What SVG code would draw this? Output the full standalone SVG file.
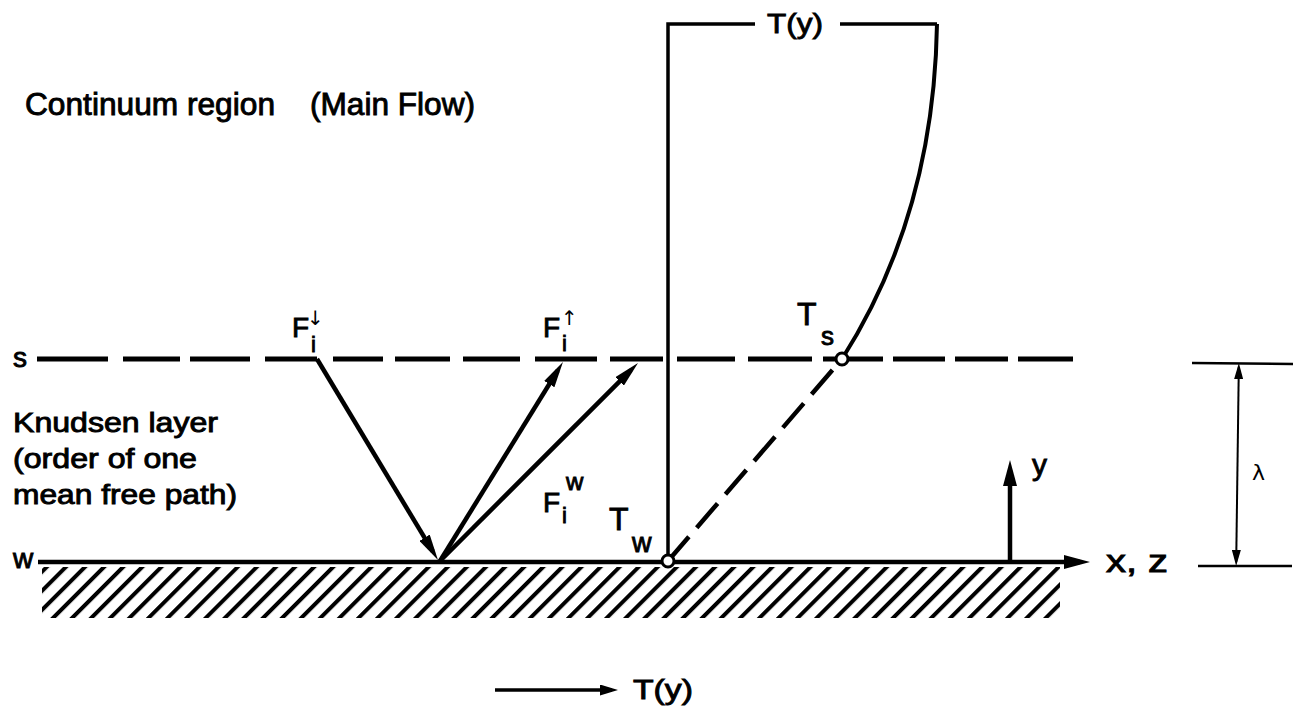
<svg xmlns="http://www.w3.org/2000/svg" width="1301" height="710" viewBox="0 0 1301 710">
<style>
.t{font-family:"Liberation Sans",Arial,sans-serif;fill:#000;stroke:#000;stroke-width:0.9}
.ln{stroke:#000;fill:none;stroke-linecap:butt}
.sym{font-family:"DejaVu Sans",sans-serif;fill:#000}
</style>
<defs>
<marker id="mBig" markerUnits="userSpaceOnUse" viewBox="0 0 26 12" markerWidth="26" markerHeight="12" refX="16" refY="6" orient="auto"><path d="M0,0 L26,6 L0,12 z" fill="#000"/></marker>
<marker id="mAx" markerUnits="userSpaceOnUse" viewBox="0 0 26 14" markerWidth="26" markerHeight="14" refX="16" refY="7" orient="auto"><path d="M0,0 L26,7 L0,14 z" fill="#000"/></marker>
<marker id="mMed" markerUnits="userSpaceOnUse" viewBox="0 0 18 11" markerWidth="18" markerHeight="11" refX="12" refY="5.5" orient="auto"><path d="M0,0 L18,5.5 L0,11 z" fill="#000"/></marker>
<marker id="mSm" markerUnits="userSpaceOnUse" viewBox="0 0 16 9" markerWidth="16" markerHeight="9" refX="12" refY="4.5" orient="auto-start-reverse"><path d="M0,0 L16,4.5 L0,9 z" fill="#000"/></marker>
<pattern id="hatch" patternUnits="userSpaceOnUse" width="13.5" height="20" patternTransform="rotate(45)"><line x1="2" y1="0" x2="2" y2="20" stroke="#000" stroke-width="4"/></pattern>
<clipPath id="hclip"><rect x="42" y="567" width="1018" height="51"/></clipPath>
</defs>
<rect width="1301" height="710" fill="#fff"/>

<g id="wall">
<rect x="42" y="567" width="1018" height="51" fill="url(#hatch)"/>
<text class="t" x="13" y="568" font-size="28">w</text>
</g>

<g id="s-plane">
<path class="ln" stroke-width="5" d="M37,359H108M123,359H180M190,359H250M265,359H317M333,359H383M395,359H450M463,359H520M535,359H597M610,359H663M677,359H735M748,359H812M823,359H883M893,359H945M955,359H1008M1018,359H1073"/>
<text class="t" x="13" y="367" font-size="28">s</text>
</g>

<g id="profile">
<path class="ln" stroke-width="3.5" d="M668,561V24H755M840,24H937"/>
<path class="ln" stroke-width="4" d="M937,24 C935,150 905,260 842,359"/>
<path class="ln" stroke-width="4.5" stroke-dasharray="32 12" d="M668,561 L842,359"/>
<text class="t" x="767" y="33" font-size="28" textLength="56" lengthAdjust="spacingAndGlyphs">T(y)</text>
</g>

<g id="connectors">
<line class="ln" stroke-width="4.5" x1="38" y1="562" x2="1080" y2="562" marker-end="url(#mAx)"/>
<line class="ln" stroke-width="4.5" x1="317" y1="359" x2="432.8" y2="551.4" marker-end="url(#mBig)"/>
<line class="ln" stroke-width="4.5" x1="440" y1="561" x2="557.7" y2="370.5" marker-end="url(#mBig)"/>
<line class="ln" stroke-width="4.5" x1="440" y1="561" x2="630.9" y2="370.1" marker-end="url(#mBig)"/>
<line class="ln" stroke-width="4.5" x1="1010" y1="562" x2="1010" y2="470" marker-end="url(#mAx)"/>
<line class="ln" stroke-width="3.5" x1="495" y1="690" x2="612" y2="690" marker-end="url(#mMed)"/>
<line class="ln" stroke-width="2" x1="1238.8" y1="367" x2="1236.2" y2="562" marker-start="url(#mSm)" marker-end="url(#mSm)"/>
<line class="ln" stroke-width="2.5" x1="1192" y1="363" x2="1293" y2="364"/>
<line class="ln" stroke-width="2.5" x1="1198" y1="566" x2="1292" y2="566"/>
</g>

<g id="points">
<circle cx="668" cy="561" r="6" fill="#fff" stroke="#000" stroke-width="3"/>
<circle cx="842" cy="359" r="6" fill="#fff" stroke="#000" stroke-width="3"/>
</g>

<g id="label-continuum">
<text class="t" x="25" y="115" font-size="31" textLength="250" lengthAdjust="spacingAndGlyphs">Continuum region</text>
<text class="t" x="310" y="115" font-size="31" textLength="165" lengthAdjust="spacingAndGlyphs">(Main Flow)</text>
</g>

<g id="label-knudsen">
<text class="t" x="13" y="432" font-size="27" textLength="205" lengthAdjust="spacingAndGlyphs">Knudsen layer</text>
<text class="t" x="13" y="468" font-size="27" textLength="184" lengthAdjust="spacingAndGlyphs">(order of one</text>
<text class="t" x="13" y="504" font-size="27" textLength="224" lengthAdjust="spacingAndGlyphs">mean free path)</text>
</g>

<g id="label-Fdown">
<text class="t" x="292" y="337" font-size="28">F</text>
<text class="t" x="311" y="352" font-size="22">i</text>
<text class="sym" x="307" y="325" font-size="20">↓</text>
</g>
<g id="label-Fup">
<text class="t" x="543" y="337" font-size="28">F</text>
<text class="t" x="562" y="351" font-size="22">i</text>
<text class="sym" x="561" y="325" font-size="20">↑</text>
</g>
<g id="label-Fw">
<text class="t" x="543" y="512" font-size="28">F</text>
<text class="t" x="562" y="523" font-size="22">i</text>
<text class="t" x="566" y="490" font-size="24">w</text>
</g>
<g id="label-Tw">
<text class="t" x="609" y="530" font-size="32">T</text>
<text class="t" x="632" y="552" font-size="27">w</text>
</g>
<g id="label-Ts">
<text class="t" x="797" y="325" font-size="32">T</text>
<text class="t" x="821" y="345" font-size="26">s</text>
</g>
<g id="label-axes">
<text class="t" x="1106" y="572" font-size="32" textLength="62" lengthAdjust="spacingAndGlyphs">x, z</text>
<text class="t" x="1032" y="475" font-size="30">y</text>
<text class="sym" x="1252" y="480" font-size="22">λ</text>
<text class="t" x="633" y="699" font-size="27" textLength="60" lengthAdjust="spacingAndGlyphs">T(y)</text>
</g>
</svg>
